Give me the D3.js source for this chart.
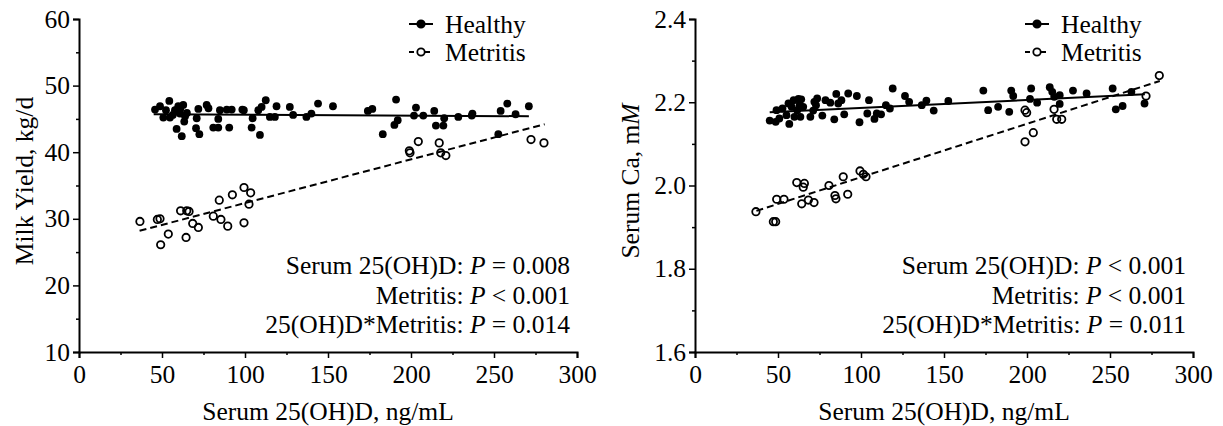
<!DOCTYPE html>
<html>
<head>
<meta charset="utf-8">
<script src="https://cdn.jsdelivr.net/npm/d3@7"></script>
<style>
  body { margin: 0; background: #fff; }
  text { font-family: "Liberation Serif", "Times New Roman", serif; fill: #000; }
</style>
</head>
<body>
<div id="vis"></div>
<script>
// Milk yield panel, [serum 25(OH)D, kg/d]
var milkHealthy = [[45.8,46.4],[48.8,46.9],[50.8,45.2],[54.4,47.7],[54.8,45.2],[52.4,46.3],[57.8,46.3],[58.8,43.5],
  [59.8,46.9],[60.8,45.8],[62.8,47.1],[61.9,42.4],[63.9,45.4],[63.4,44.6],[56.5,45.6],[61,46.5],[65,45.9],[71.9,46.5],
  [70.9,45.1],[70.5,43.6],[72.5,42.7],[76.9,47.1],[78,46.6],[80.9,43.7],[83.9,45.0],[84.9,46.3],[83.9,43.7],[89,46.4],
  [90.5,43.7],[92,46.4],[98.4,46.4],[99.3,46.3],[104,43.7],[104.6,45.1],[108,46.3],[110,46.8],[109,42.6],[112.5,47.8],
  [115,45.3],[118,45.3],[119,46.9],[127,46.8],[129,45.6],[137,45.3],[140,45.8],[144,47.3],[153,46.9],[174,46.2],
  [176.7,46.5],[183,42.7],[191,47.9],[190,44.1],[192,44.8],[203,46.7],[201.8,45.5],[207.4,45.5],[214,46.2],[215,44.0],
  [219.5,44.0],[220,45.1],[228.5,45.3],[236.6,45.5],[237,45.8],[252.6,42.7],[254,46.2],[258,47.3],[263,45.7],[271,46.9]]
var milkMetritis = [[36.7,29.6],[47.2,29.9],[48.8,30.0],[49.2,26.1],[53.8,27.7],[61.2,31.2],[64.9,31.2],[66.3,31.1],
  [64.5,27.2],[68.5,29.3],[71.9,28.7],[80.9,30.4],[84.5,32.8],[85.5,29.9],[89.6,28.9],[92.4,33.6],[99.4,34.7],
  [99.4,29.4],[103.4,33.9],[102.4,32.2],[199,40.2],[199.4,39.9],[204.4,41.6],[217,41.4],[217.9,39.9],[221,39.5],
  [272.3,41.9],[280.1,41.4]]
var milkHealthyFit = [[45,45.7],[271,45.4]]
var milkMetritisFit = [[36.5,28.2],[280.5,44.2]]
var milkStats = [["Serum 25(OH)D: ", "= 0.008"], ["Metritis: ", "< 0.001"], ["25(OH)D*Metritis: ", "= 0.014"]]

// Serum Ca panel, [serum 25(OH)D, mM]
var caHealthy = [[45,2.156],[49.1,2.181],[48.6,2.153],[50.8,2.161],[52.7,2.185],[55.1,2.169],[56.3,2.197],[56.8,2.148],
  [58.2,2.189],[59.4,2.205],[59.9,2.165],[61.6,2.181],[62.3,2.208],[63,2.193],[64,2.207],[63.5,2.165],[65.2,2.189],
  [69.5,2.165],[71.2,2.180],[71.9,2.201],[73.6,2.209],[72.9,2.193],[76.7,2.168],[78.6,2.205],[81.5,2.199],[83.9,2.159],
  [85.1,2.220],[86.3,2.197],[88.2,2.205],[89.9,2.171],[92.3,2.221],[97.5,2.215],[99.1,2.152],[103.8,2.173],[104.8,2.205],
  [108.1,2.160],[109.5,2.173],[112.1,2.171],[115,2.193],[117.4,2.185],[119.1,2.233],[126.5,2.215],[129,2.201],
  [136.6,2.193],[139.4,2.204],[143.8,2.180],[152.6,2.203],[173.7,2.228],[176.6,2.181],[182.6,2.189],[189.3,2.177],
  [190.5,2.228],[191.7,2.215],[201.8,2.208],[202.5,2.233],[206.1,2.199],[213.7,2.236],[215.2,2.225],[216.4,2.213],
  [219.7,2.217],[219.7,2.196],[227.7,2.228],[235.9,2.221],[251.6,2.233],[253.5,2.183],[257.6,2.191],[262.9,2.225],
  [270.8,2.197]]
var caMetritis = [[36.7,1.937],[47.2,1.913],[48.6,1.913],[49.2,1.967],[53.6,1.967],[61.3,2.007],[65.9,2.005],
  [65.2,1.996],[64.3,1.956],[68.3,1.965],[71.7,1.959],[80.7,2.000],[84.3,1.976],[84.9,1.968],[89.3,2.021],[92,1.979],
  [99.4,2.035],[101.4,2.027],[103,2.021],[198.8,2.181],[199.8,2.175],[198.8,2.105],[203.8,2.127],[216.3,2.183],
  [217.9,2.159],[220.9,2.159],[271.7,2.215],[279.7,2.264]]
var caHealthyFit = [[45,2.176],[271,2.219]]
var caMetritisFit = [[37,1.939],[280,2.251]]
var caStats = [["Serum 25(OH)D: ", "< 0.001"], ["Metritis: ", "< 0.001"], ["25(OH)D*Metritis: ", "= 0.011"]]

var xTicks = [0, 50, 100, 150, 200, 250, 300]
var xMinor = [25, 75, 125, 175, 225, 275]
var legendNames = ["Healthy", "Metritis"]

var fontSize = 25.5
var svg = d3.select('#vis').append('svg')
    .attr('width', 1223)
    .attr('height', 426)

var panels = [
  { left: 79, healthy: milkHealthy, metritis: milkMetritis, hFit: milkHealthyFit, mFit: milkMetritisFit,
    stats: milkStats, yDomain: [10, 60], yTicks: [10, 20, 30, 40, 50, 60], yMinor: [15, 25, 35, 45, 55],
    yFormat: d3.format('d'), yTitle: ["Milk Yield, kg/d", ""], yTitleX: 24 },
  { left: 695, healthy: caHealthy, metritis: caMetritis, hFit: caHealthyFit, mFit: caMetritisFit,
    stats: caStats, yDomain: [1.6, 2.4], yTicks: [1.6, 1.8, 2.0, 2.2, 2.4], yMinor: [1.7, 1.9, 2.1, 2.3],
    yFormat: d3.format('.1f'), yTitle: ["Serum Ca, m", "M"], yTitleX: 630 }
]

panels.forEach(function (p) {
  var g = svg.append('g').attr('transform', 'translate(' + p.left + ',0)')
  var w = 498
  var xScale = d3.scaleLinear().domain([0, 300]).range([0, w])
  var yScale = d3.scaleLinear().domain(p.yDomain).range([352, 19])

  // axes
  g.append('g').attr('transform', 'translate(0,352)')
    .call(d3.axisBottom(xScale).tickValues(xTicks).tickSize(6).tickPadding(7).tickFormat(d3.format('d')))
  g.append('g').attr('transform', 'translate(0,352)')
    .call(d3.axisBottom(xScale).tickValues(xMinor).tickSize(3).tickFormat(''))
    .select('.domain').remove()
  g.append('g')
    .call(d3.axisLeft(yScale).tickValues(p.yTicks).tickSize(6).tickPadding(3).tickFormat(p.yFormat))
  g.append('g')
    .call(d3.axisLeft(yScale).tickValues(p.yMinor).tickSize(3).tickFormat(''))
    .select('.domain').remove()

  g.selectAll('.domain').attr('stroke', '#000').attr('stroke-width', 2)
  g.selectAll('.tick line').attr('stroke', '#000').attr('stroke-width', 1.5)
  g.selectAll('.tick text').style('font-size', fontSize + 'px').attr('fill', '#000')

  // x title
  g.append('text')
    .attr('x', w / 2)
    .attr('y', 420)
    .attr('text-anchor', 'middle')
    .style('font-size', fontSize + 'px')
    .text('Serum 25(OH)D, ng/mL')

  // y title
  var yt = svg.append('text')
    .attr('transform', 'translate(' + p.yTitleX + ',181) rotate(-90)')
    .attr('text-anchor', 'middle')
    .attr('dy', '0.35em')
    .style('font-size', fontSize + 'px')
  yt.append('tspan').text(p.yTitle[0])
  if (p.yTitle[1]) yt.append('tspan').style('font-style', 'italic').text(p.yTitle[1])

  var line = d3.line()
    .x(function (d) { return xScale(d[0]) })
    .y(function (d) { return yScale(d[1]) })

  // fit lines
  g.append('path').datum(p.hFit)
    .attr('d', line).attr('fill', 'none').attr('stroke', '#000').attr('stroke-width', 2)
  g.append('path').datum(p.mFit)
    .attr('d', line).attr('fill', 'none').attr('stroke', '#000').attr('stroke-width', 2)
    .attr('stroke-dasharray', '7,4')

  // points
  g.selectAll('circle.met')
      .data(p.metritis)
      .enter()
    .append('circle')
      .attr('class', 'met')
      .attr('cx', function (d) { return xScale(d[0]) })
      .attr('cy', function (d) { return yScale(d[1]) })
      .attr('r', 3.7)
      .attr('fill', 'none')
      .attr('stroke', '#000')
      .attr('stroke-width', 1.8)
  g.selectAll('circle.hea')
      .data(p.healthy)
      .enter()
    .append('circle')
      .attr('class', 'hea')
      .attr('cx', function (d) { return xScale(d[0]) })
      .attr('cy', function (d) { return yScale(d[1]) })
      .attr('r', 3.9)
      .attr('fill', '#000')

  // legend
  var lg = g.append('g').attr('transform', 'translate(330,0)')
  legendNames.forEach(function (name, i) {
    var y = 24 + i * 28
    lg.append('line')
      .attr('x1', 0).attr('x2', 24).attr('y1', y).attr('y2', y)
      .attr('stroke', '#000').attr('stroke-width', 2)
      .attr('stroke-dasharray', i == 0 ? null : '5,3')
    lg.append('circle')
      .attr('cx', 12).attr('cy', y).attr('r', 3.7)
      .attr('fill', i == 0 ? '#000' : '#fff')
      .attr('stroke', '#000').attr('stroke-width', 1.8)
    lg.append('text')
      .attr('x', 36).attr('y', y)
      .attr('dy', '0.35em')
      .style('font-size', fontSize + 'px')
      .text(name)
  })

  // stats
  p.stats.forEach(function (s, i) {
    var t = g.append('text')
      .attr('x', w - 7)
      .attr('y', 274 + i * 29.5)
      .attr('text-anchor', 'end')
      .style('font-size', fontSize + 'px')
    t.append('tspan').text(s[0])
    t.append('tspan').style('font-style', 'italic').text('P')
    t.append('tspan').text(' ' + s[1])
  })
})
</script>
</body>
</html>
